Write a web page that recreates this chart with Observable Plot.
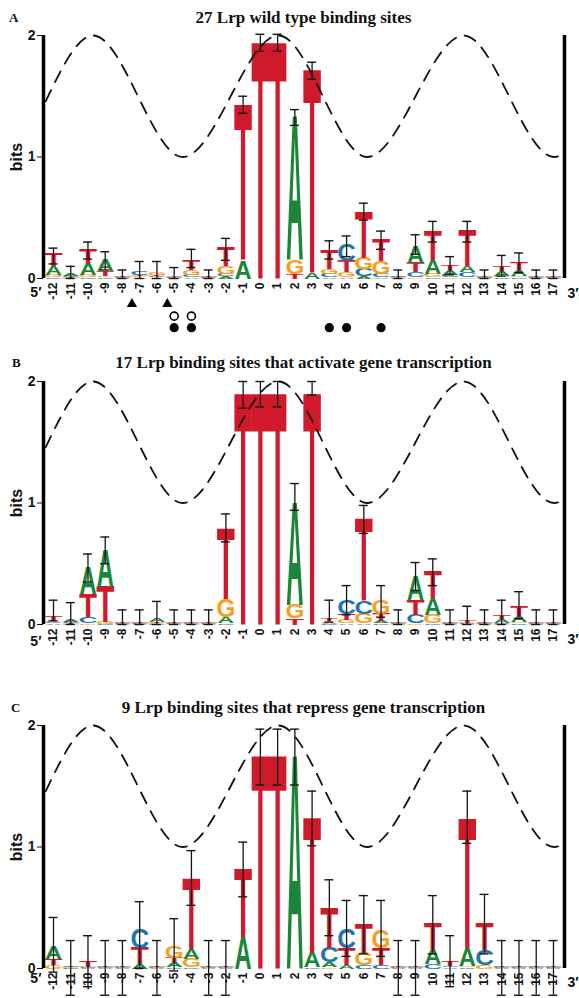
<!DOCTYPE html>
<html><head><meta charset="utf-8">
<script src="https://cdn.jsdelivr.net/npm/d3@7"></script>
<script src="https://cdn.jsdelivr.net/npm/@observablehq/plot@0.6"></script>
<style>
body{margin:0;background:#fff;}
#root{position:relative;width:579px;height:998px;overflow:hidden;background:#fff;}
.title{position:absolute;left:43px;width:521px;text-align:center;font:bold 17px "Liberation Serif",serif;line-height:18px;color:#111;white-space:nowrap;}
.tag{position:absolute;font:bold 13px "Liberation Serif",serif;line-height:16px;color:#111;}
#root svg{position:absolute;left:0;}
</style></head><body><div id="root"></div>
<script>
// ---- categories ----
const positions = [-12,-11,-10,-9,-8,-7,-6,-5,-4,-3,-2,-1,0,1,2,3,4,5,6,7,8,9,10,11,12,13,14,15,16,17];
const bases = ["A","C","G","T"];
const baseColors = ["#1b863a","#1f78aa","#f5a11f","#d01a2c"];

// ---- panel A: 27 wild type sites (bits per base) ----
const A_A = [.07,.015,.09,.09,.005,.01,.01,.005,.01,.005,.02,.15,0,0,1.17,.05,.01,.01,.02,.01,.005,.14,.11,.04,.05,.005,.04,.05,.005,.005];
const A_C = [.01,.01,.01,.01,.005,.03,.01,.005,.02,.005,.02,0,0,0,0,0,.03,.13,.06,.03,.01,.04,.01,.02,.04,.005,.01,.01,.005,.005];
const A_G = [.02,.005,.02,.01,.005,.01,.015,.01,.04,.005,.06,0,0,0,.11,0,.04,.04,.09,.10,.005,.01,.03,.01,.01,.005,.01,.01,.005,.005];
const A_T = [.10,.005,.12,.04,.005,.01,.01,.005,.08,.005,.16,1.27,1.93,1.93,.04,1.66,.16,.09,.38,.18,.005,.08,.24,.04,.29,.005,.04,.06,.005,.005];
const A_lo = [.12,0,.16,.07,0,0,0,0,.09,0,.15,1.36,1.87,1.87,1.26,1.64,.16,.18,.48,.24,0,.20,.30,.03,.30,0,.02,.05,0,0];
const A_hi = [.25,.10,.30,.22,.07,.14,.14,.09,.24,.07,.33,1.50,2.01,2.01,1.39,1.78,.31,.35,.62,.39,.07,.36,.47,.18,.47,.07,.19,.21,.07,.07];

// ---- panel B: 17 activating sites ----
const B_A = [.01,.015,.22,.30,.005,.005,.03,.005,.005,.005,.05,0,0,0,.84,0,.01,.01,.01,.02,.005,.20,.14,.005,.005,.005,.03,.05,.005,.005];
const B_C = [.01,.01,.05,.005,.005,.005,.005,.005,.005,.005,.01,0,0,0,0,0,.005,.11,.10,.01,.005,.07,.01,.005,.005,.005,.01,.01,.005,.005];
const B_G = [.01,.005,.01,.015,.005,.005,.005,.005,.005,.005,.15,0,0,0,.11,0,.01,.03,.08,.11,.005,.01,.07,.005,.005,.005,.005,.01,.005,.005];
const B_T = [.04,.005,.19,.29,.005,.005,.01,.005,.005,.005,.58,1.89,1.89,1.89,.05,1.89,.015,.05,.67,.06,.005,.12,.22,.005,.02,.005,.03,.08,.005,.005];
const B_lo = [.03,0,.35,.50,0,0,0,0,0,0,.68,1.78,1.79,1.79,.94,1.89,.02,.08,.75,.06,0,.28,.32,0,0,0,0,.05,0,0];
const B_hi = [.20,.18,.58,.72,.12,.12,.19,.12,.12,.12,.91,2.0,2.0,2.0,1.16,2.0,.20,.32,.98,.32,.12,.51,.54,.12,.15,.12,.20,.27,.12,.12];

// ---- panel C: 9 repressing sites ----
const C_A = [.10,.01,.005,.005,.005,.04,.005,.04,.08,.005,.005,.26,0,0,1.74,.12,.04,.03,0,0,.005,.005,.12,.01,.15,0,.005,.005,.005,.005];
const C_C = [0,.005,.005,.005,.005,.16,.005,.01,.01,.005,.005,0,0,0,0,.01,.12,.16,.03,.03,.005,.005,.04,.01,.01,.12,.005,.005,.005,.005];
const C_G = [.03,.005,.005,.005,.005,0,.005,.09,.07,.005,.005,0,0,0,0,0,.01,0,.10,.15,.005,.005,0,0,.01,.03,.005,.005,.005,.005];
const C_T = [.05,.005,.05,.005,.005,.13,.005,.04,.58,.005,.005,.55,1.74,1.74,0,1.10,.32,.14,.24,.14,.005,.005,.21,.04,1.06,.22,.005,.005,.005,.005];
const C_lo = [-.03,-.22,-.15,-.22,-.22,0,-.22,-.02,.52,-.22,-.22,.59,1.51,1.51,1.51,1.01,.27,.10,.12,.10,-.22,-.22,.12,-.15,1.03,.12,-.22,-.22,-.22,-.22];
const C_hi = [.42,.23,.27,.23,.23,.55,.23,.41,.97,.23,.23,1.04,1.97,1.97,1.97,1.46,.73,.56,.60,.56,.23,.23,.60,.27,1.46,.61,.23,.23,.23,.23];

// ---- helix face (dashed curve): read extrema, in position / bits ----
const waveX = [-12.45,-9.7,-4.5,1.05,6.2,11.8,17.05,17.55];
const waveY = [1.46,2,1,2,1,2,1,1.02];

// ---- markers below panel A ----
const triX = [-7.45,-5.4];   const triY = [-0.21,-0.21];
const openX = [-5,-4];       const openY = [-0.31,-0.31];
const fillX = [-5,-4,4,5,7]; const fillY = [-0.405,-0.405,-0.405,-0.405,-0.405];

const xDomain = [-12.58, 17.64];
const SANS = "Liberation Sans, Arial, Helvetica, sans-serif";
const root = document.getElementById("root");

function addDiv(cls, text, top, left) {
  const d = document.createElement("div");
  d.className = cls; d.textContent = text; d.style.top = top + "px";
  if (left != null) d.style.left = left + "px";
  root.appendChild(d);
}

function drawPanel(cfg) {
  const {svgTop, H, yTop, yZero, vals, lo, hi, markers, fiveDy, threeDy} = cfg;
  const rows = [];
  positions.forEach((pos, i) => {
    const col = bases.map((b, k) => ({base: b, h: vals[k][i]}))
      .filter(d => d.h > 0).sort((a, b) => a.h - b.h);
    let acc = 0;
    for (const d of col) { rows.push({pos, base: d.base, y0: acc, h: d.h}); acc += d.h; }
  });
  const errs = positions.map((pos, i) => ({pos, lo: lo[i], hi: hi[i]}));
  const caps = errs.flatMap(e => [{pos: e.pos, y: e.lo}, {pos: e.pos, y: e.hi}]);
  const wave = waveX.map((x, i) => ({x, y: waveY[i]}));
  const capHalf = 0.26, F = 20;
  const marks = [
    Plot.text(rows, {x: "pos", y: "y0", text: "base", fill: "base", fontSize: F, fontWeight: "bold",
      fontFamily: SANS, textAnchor: "middle", lineAnchor: "bottom"}),
    Plot.ruleX(errs, {x: "pos", y1: "lo", y2: "hi", stroke: "#151515", strokeWidth: 1.3}),
    Plot.ruleY(caps, {y: "y", x1: d => d.pos - capHalf, x2: d => d.pos + capHalf, stroke: "#151515", strokeWidth: 1.4}),
    Plot.line(wave, {x: "x", y: "y", curve: "monotone-x", stroke: "#111", strokeWidth: 1.8, strokeDasharray: "12,9"}),
    Plot.ruleX([xDomain[0]], {x: d => d, y1: 0, y2: 2, stroke: "#000", strokeWidth: 3.5}),
    Plot.ruleX([xDomain[1]], {x: d => d, y1: 0, y2: 2, stroke: "#000", strokeWidth: 3.5}),
    Plot.text(positions, {x: d => d, y: 0, text: d => String(d), rotate: -90, textAnchor: "end", lineAnchor: "middle",
      dy: 4, fontSize: 12, fontWeight: "bold", fontFamily: SANS, fill: "#111"}),
    Plot.text(["5′"], {frameAnchor: "bottom-left", text: d => d, textAnchor: "end", dx: -2, dy: fiveDy,
      fontSize: 14, fontWeight: "bold", fontFamily: SANS, fill: "#111"}),
    Plot.text(["3′"], {frameAnchor: "bottom-right", text: d => d, textAnchor: "start", dx: 3, dy: threeDy,
      fontSize: 14, fontWeight: "bold", fontFamily: SANS, fill: "#111"}),
    Plot.text(["bits"], {frameAnchor: "left", text: d => d, rotate: -90, dx: -27, textAnchor: "middle", lineAnchor: "middle",
      fontSize: 16, fontWeight: "bold", fontFamily: SANS, fill: "#111"})
  ];
  if (markers) {
    marks.push(
      Plot.dot(triX, {x: d => d, y: (d, i) => triY[i], symbol: "triangle", r: 3.8, fill: "#000", stroke: "none"}),
      Plot.dot(openX, {x: d => d, y: (d, i) => openY[i], r: 4, fill: "#fff", stroke: "#000", strokeWidth: 1.6}),
      Plot.dot(fillX, {x: d => d, y: (d, i) => fillY[i], r: 4.6, fill: "#000", stroke: "none"})
    );
  }
  const chart = Plot.plot({
    width: 579, height: H,
    marginLeft: 43, marginRight: 15, marginTop: yTop - svgTop, marginBottom: svgTop + H - yZero,
    x: {domain: xDomain, axis: null},
    y: {domain: [0, 2], ticks: 2, tickSize: 6, tickPadding: 2, tickFormat: "d", label: null},
    color: {domain: bases, range: baseColors},
    style: {fontFamily: SANS, fontSize: "14px", fontWeight: "bold", background: "transparent", overflow: "visible", color: "#111"},
    marks
  });
  // stretch each letter glyph to its stack height using the plot's own scales
  const ys = chart.scale("y"), xs = chart.scale("x");
  const pxPerBit = Math.abs(ys.range[0] - ys.range[1]) / Math.abs(ys.domain[1] - ys.domain[0]);
  const pxPerCol = Math.abs(xs.range[1] - xs.range[0]) / Math.abs(xs.domain[1] - xs.domain[0]);
  const ink = {A: .72, C: .66, G: .70, T: .575};   // glyph ink widths (em), Liberation Sans Bold
  const capH = 0.686;                               // cap height (em)
  let letterGroup = null;
  for (const g of chart.querySelectorAll("g")) {
    const kids = Array.from(g.children);
    if (kids.length === rows.length && kids.every(k => k.tagName.toLowerCase() === "text") &&
        kids.every((k, i) => k.textContent === rows[i].base)) { letterGroup = g; break; }
  }
  if (letterGroup) {
    Array.from(letterGroup.children).forEach((el, i) => {
      const d = rows[i];
      const sy = d.h * pxPerBit / (capH * F);
      const sx = 0.99 * pxPerCol / (ink[d.base] * F);
      let tr = el.getAttribute("transform");
      if (!tr) {
        tr = `translate(${el.getAttribute("x") || 0},${el.getAttribute("y") || 0})`;
        el.removeAttribute("x");
      }
      el.removeAttribute("y"); el.removeAttribute("dy");
      el.setAttribute("transform", tr + ` scale(${sx},${sy})`);
    });
  }
  chart.style.top = svgTop + "px";
  root.appendChild(chart);
}

drawPanel({svgTop: 0, H: 340, yTop: 35, yZero: 278, vals: [A_A, A_C, A_G, A_T], lo: A_lo, hi: A_hi, markers: true, fiveDy: 18, threeDy: 19});
drawPanel({svgTop: 340, H: 340, yTop: 381, yZero: 624, vals: [B_A, B_C, B_G, B_T], lo: B_lo, hi: B_hi, markers: false, fiveDy: 21, threeDy: 19});
drawPanel({svgTop: 680, H: 318, yTop: 725, yZero: 968, vals: [C_A, C_C, C_G, C_T], lo: C_lo, hi: C_hi, markers: false, fiveDy: 14, threeDy: 18});

addDiv("title", "27 Lrp wild type binding sites", 9);
addDiv("title", "17 Lrp binding sites that activate gene transcription", 354);
addDiv("title", "9 Lrp binding sites that repress gene transcription", 699);
addDiv("tag", "A", 10, 9);
addDiv("tag", "B", 355, 12);
addDiv("tag", "C", 700, 11);
</script>
</body></html>
